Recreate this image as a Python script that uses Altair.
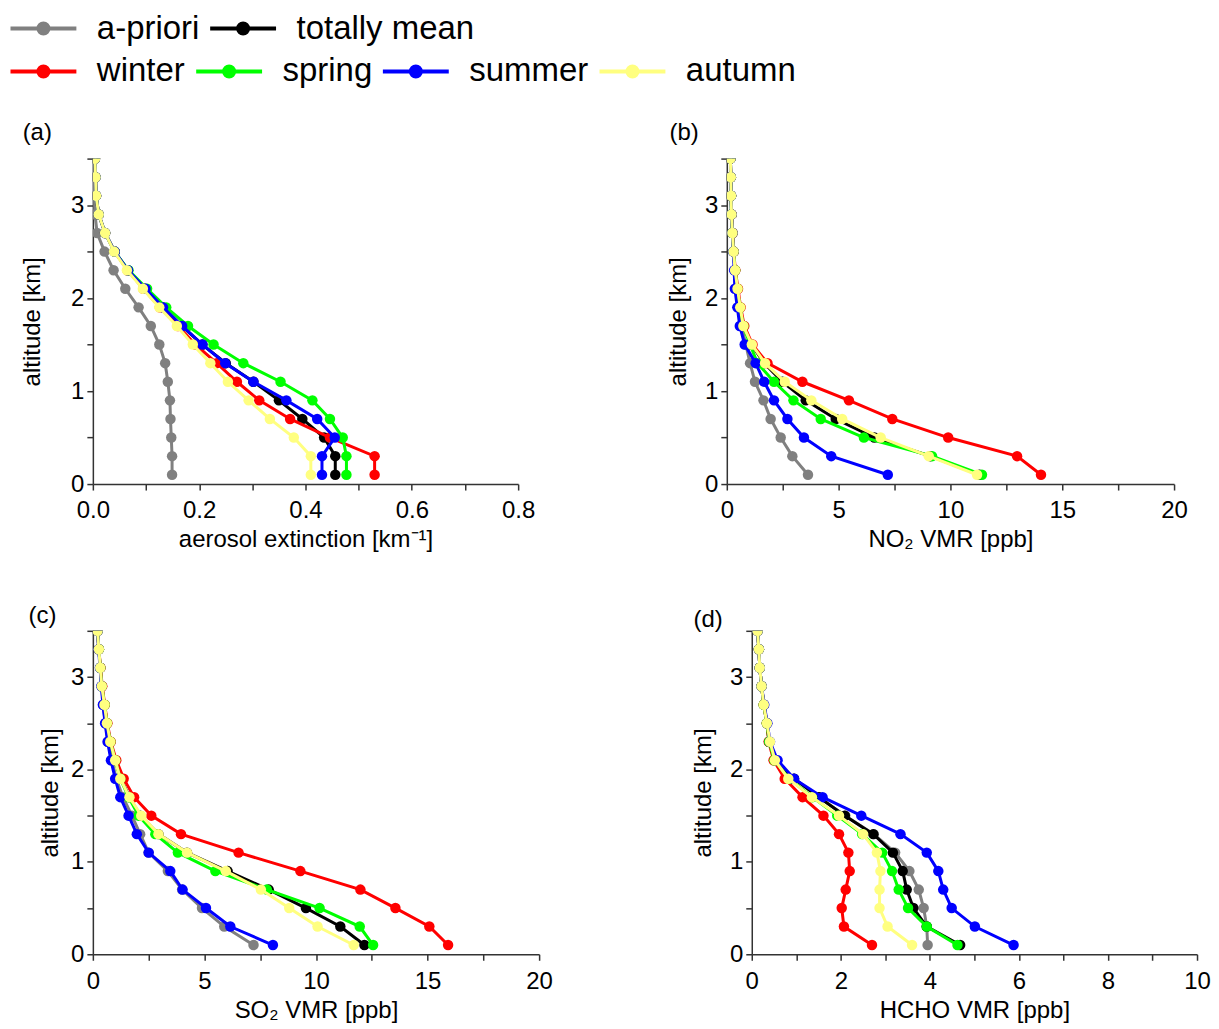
import altair as alt
import pandas as pd

ALTITUDE = [0.1, 0.3, 0.5, 0.7, 0.9, 1.1, 1.3, 1.5, 1.7, 1.9, 2.1, 2.3, 2.5, 2.7, 2.9, 3.1, 3.3, 3.5]
SERIES = ["a-priori", "totally mean", "winter", "spring", "summer", "autumn"]
COLORS = ["#808080", "#000000", "#ff0000", "#00ff00", "#0000ff", "#ffff80"]

# (a) aerosol extinction [km-1]
aer_apriori = [0.149, 0.149, 0.1475, 0.146, 0.145, 0.141, 0.136, 0.125, 0.109, 0.086, 0.061, 0.039, 0.022, 0.008, 0.004, 0.003, 0.002, 0.001]
aer_mean = [0.456, 0.456, 0.435, 0.394, 0.350, 0.302, 0.250, 0.206, 0.167, 0.132, 0.098, 0.066, 0.041, 0.023, 0.011, 0.006, 0.005, 0.004]
aer_winter = [0.530, 0.530, 0.446, 0.371, 0.313, 0.271, 0.233, 0.193, 0.160, 0.126, 0.095, 0.065, 0.041, 0.023, 0.011, 0.006, 0.005, 0.004]
aer_spring = [0.477, 0.477, 0.470, 0.446, 0.413, 0.353, 0.283, 0.227, 0.179, 0.138, 0.102, 0.067, 0.041, 0.023, 0.011, 0.006, 0.005, 0.004]
aer_summer = [0.431, 0.431, 0.455, 0.422, 0.364, 0.302, 0.249, 0.206, 0.168, 0.132, 0.099, 0.066, 0.041, 0.023, 0.011, 0.006, 0.005, 0.004]
aer_autumn = [0.410, 0.410, 0.378, 0.333, 0.293, 0.254, 0.221, 0.188, 0.158, 0.125, 0.094, 0.064, 0.040, 0.023, 0.011, 0.006, 0.005, 0.004]

# (b) NO2 VMR [ppb]
no2_apriori = [3.63, 2.93, 2.41, 1.96, 1.64, 1.26, 1.04, 0.85, 0.66, 0.55, 0.47, 0.37, 0.30, 0.25, 0.21, 0.19, 0.18, 0.16]
no2_mean = [11.3, 9.10, 6.60, 4.87, 3.53, 2.49, 1.67, 1.10, 0.74, 0.59, 0.47, 0.37, 0.30, 0.25, 0.21, 0.19, 0.18, 0.16]
no2_winter = [14.05, 12.98, 9.90, 7.40, 5.46, 3.38, 1.82, 1.15, 0.78, 0.62, 0.50, 0.38, 0.31, 0.26, 0.22, 0.19, 0.18, 0.16]
no2_spring = [11.41, 9.18, 6.13, 4.20, 2.98, 2.11, 1.37, 1.04, 0.74, 0.59, 0.47, 0.37, 0.30, 0.25, 0.21, 0.19, 0.18, 0.16]
no2_summer = [7.20, 4.67, 3.45, 2.71, 2.11, 1.67, 1.29, 0.80, 0.58, 0.47, 0.36, 0.33, 0.29, 0.25, 0.21, 0.19, 0.18, 0.16]
no2_autumn = [11.19, 9.03, 6.88, 5.16, 3.78, 2.59, 1.71, 1.12, 0.74, 0.60, 0.48, 0.37, 0.30, 0.25, 0.21, 0.19, 0.18, 0.16]

# (c) SO2 VMR [ppb]
so2_apriori = [7.20, 5.89, 4.89, 4.00, 3.36, 2.50, 2.12, 1.75, 1.35, 1.05, 0.85, 0.68, 0.56, 0.46, 0.40, 0.33, 0.27, 0.21]
so2_mean = [12.17, 11.09, 9.55, 7.88, 6.04, 4.22, 2.94, 2.12, 1.64, 1.25, 1.00, 0.78, 0.63, 0.52, 0.40, 0.33, 0.27, 0.21]
so2_winter = [15.92, 15.08, 13.56, 11.99, 9.30, 6.53, 3.95, 2.62, 1.85, 1.38, 1.05, 0.80, 0.65, 0.53, 0.42, 0.34, 0.27, 0.21]
so2_spring = [12.56, 11.96, 10.16, 7.80, 5.49, 3.81, 2.80, 2.05, 1.60, 1.23, 1.00, 0.78, 0.63, 0.52, 0.40, 0.33, 0.27, 0.21]
so2_summer = [8.07, 6.16, 5.07, 4.02, 3.47, 2.50, 1.97, 1.60, 1.23, 1.00, 0.81, 0.66, 0.55, 0.45, 0.38, 0.32, 0.26, 0.21]
so2_autumn = [11.69, 10.07, 8.80, 7.53, 5.96, 4.22, 2.94, 2.17, 1.64, 1.23, 1.00, 0.78, 0.63, 0.52, 0.40, 0.33, 0.27, 0.21]

# (d) HCHO VMR [ppb]
hcho_apriori = [3.95, 3.93, 3.86, 3.75, 3.54, 3.22, 2.74, 2.10, 1.50, 0.95, 0.52, 0.39, 0.34, 0.27, 0.22, 0.18, 0.16, 0.13]
hcho_mean = [4.68, 3.93, 3.63, 3.48, 3.39, 3.17, 2.73, 2.09, 1.51, 0.95, 0.52, 0.39, 0.34, 0.27, 0.22, 0.18, 0.16, 0.13]
hcho_winter = [2.70, 2.07, 2.02, 2.11, 2.20, 2.17, 1.96, 1.61, 1.14, 0.74, 0.49, 0.38, 0.34, 0.27, 0.22, 0.18, 0.16, 0.13]
hcho_spring = [4.62, 3.93, 3.51, 3.30, 3.15, 2.93, 2.48, 1.92, 1.36, 0.84, 0.51, 0.39, 0.34, 0.27, 0.22, 0.18, 0.16, 0.13]
hcho_summer = [5.88, 5.01, 4.49, 4.30, 4.19, 3.93, 3.34, 2.46, 1.59, 0.95, 0.58, 0.41, 0.35, 0.28, 0.22, 0.18, 0.16, 0.13]
hcho_autumn = [3.60, 3.05, 2.87, 2.87, 2.89, 2.81, 2.50, 1.96, 1.35, 0.82, 0.52, 0.41, 0.34, 0.27, 0.22, 0.18, 0.16, 0.13]

FONT = "Liberation Sans"


def long_df(cols):
    rows = []
    for s, vals in zip(SERIES, cols):
        for a, v in zip(ALTITUDE, vals):
            rows.append({"series": s, "alt": a, "value": v})
    return pd.DataFrame(rows)


def tick_values(step, maxv):
    n = int(round(maxv / step))
    return [round(i * step, 6) for i in range(n + 1)]


def panel(df, label, xtitle, xmax, xminor, xmajor, xfmt, w, h, ytp, t_offset, t_dx):
    xaxis = alt.Axis(
        values=tick_values(xminor, xmax), format=xfmt,
        labelExpr=f"abs(datum.value/{xmajor} - round(datum.value/{xmajor})) < 1e-6 ? datum.label : ''",
        title=xtitle, tickSize=6, labelPadding=9, titlePadding=5,
        labelFlush=False, labelOverlap=False)
    yaxis = alt.Axis(
        values=tick_values(0.5, 3.5), format=".0f",
        labelExpr="abs(datum.value - round(datum.value)) < 1e-6 ? datum.label : ''",
        title="altitude [km]", tickSize=6, labelPadding=3, titlePadding=ytp,
        labelFlush=False, labelOverlap=False)
    x = alt.X("value:Q", scale=alt.Scale(domain=[0, xmax], nice=False, zero=False), axis=xaxis)
    y = alt.Y("alt:Q", scale=alt.Scale(domain=[0, 3.5], nice=False, zero=False), axis=yaxis)
    color = alt.Color("series:N", scale=alt.Scale(domain=SERIES, range=COLORS), legend=None)
    layers = []
    for s in SERIES:
        sub = alt.Chart(df).transform_filter(alt.datum.series == s)
        layers.append(sub.mark_line(strokeWidth=3, clip=True).encode(
            x=x, y=y, color=color, order=alt.Order("alt:Q")))
        layers.append(sub.mark_circle(size=110, opacity=1, clip=True).encode(
            x=x, y=y, color=color))
    return alt.layer(*layers).properties(
        width=w, height=h,
        title=alt.TitleParams(label, anchor="start", font=FONT, fontSize=24,
                              fontWeight="normal", color="black",
                              offset=t_offset, dx=t_dx))


pa = panel(long_df([aer_apriori, aer_mean, aer_winter, aer_spring, aer_summer, aer_autumn]),
           "(a)", "aerosol extinction [km⁻¹]", 0.8, 0.1, 0.2, ".1f", 426, 326, 26, 2, 2)
pb = panel(long_df([no2_apriori, no2_mean, no2_winter, no2_spring, no2_summer, no2_autumn]),
           "(b)", "NO₂ VMR [ppb]", 20, 2.5, 5, ".0f", 448, 326, 14, 2, 3)
pc = panel(long_df([so2_apriori, so2_mean, so2_winter, so2_spring, so2_summer, so2_autumn]),
           "(c)", "SO₂ VMR [ppb]", 20, 2.5, 5, ".0f", 447, 324, 8, -9, -10)
pd_ = panel(long_df([hcho_apriori, hcho_mean, hcho_winter, hcho_spring, hcho_summer, hcho_autumn]),
            "(d)", "HCHO VMR  [ppb]", 10, 1, 2, ".0f", 446, 324, 14, -13, 2)

SYM = ("M-33,0H33"
       "M-2,0a2,2 0 1,0 4,0a2,2 0 1,0 -4,0"
       "M-5,0a5,5 0 1,0 10,0a5,5 0 1,0 -10,0")


def leg(ypos):
    return alt.Legend(orient="none", legendX=-83, legendY=ypos, direction="horizontal",
                      title=None, symbolType=SYM, symbolSize=4, symbolStrokeWidth=4,
                      symbolOffset=17, labelOffset=37, labelFont=FONT, labelFontSize=33,
                      labelColor="black", columnPadding=2, labelLimit=500)


legend_df = pd.DataFrame({"series": SERIES})
lbase = alt.Chart(legend_df).transform_filter("false")
leg_a = lbase.mark_line().encode(
    x=alt.value(0), y=alt.value(0),
    color=alt.Color("series:N", scale=alt.Scale(domain=SERIES[:2], range=COLORS[:2]), legend=leg(-20)))
leg_b = lbase.mark_line().encode(
    x=alt.value(0), y=alt.value(0),
    stroke=alt.Stroke("series:N", scale=alt.Scale(domain=SERIES[2:], range=COLORS[2:]), legend=leg(23)))
legend_chart = alt.layer(leg_a, leg_b).properties(width=1, height=1)

row1 = alt.hconcat(pa, pb, spacing=131)
row2 = alt.hconcat(pc, pd_, spacing=138)
grid = alt.vconcat(row1, row2, spacing=52)

chart = alt.vconcat(legend_chart, grid, spacing=32).resolve_scale(
    color="independent", stroke="independent"
).properties(
    padding={"left": 2, "top": 3, "right": 0, "bottom": 0}
).configure_view(stroke=None).configure_axis(
    labelFont=FONT, titleFont=FONT, labelFontSize=24, titleFontSize=24,
    labelColor="black", titleColor="black", titleFontWeight="normal",
    domainColor="#333333", tickColor="#333333", domainWidth=1.5, tickWidth=1.5, grid=False
)

chart.save("out.html", embed_options={"renderer": "svg", "actions": False})
